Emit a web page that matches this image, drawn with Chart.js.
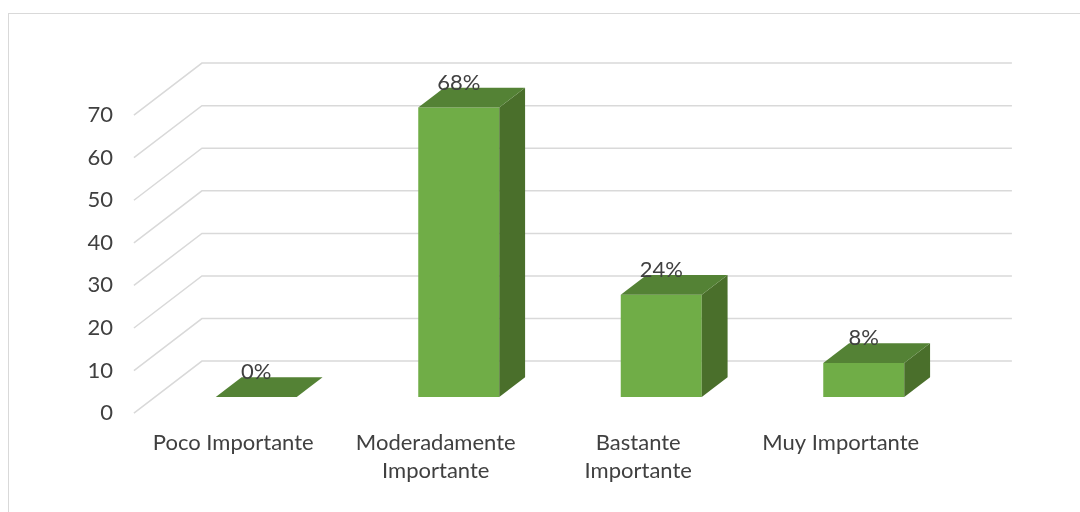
<!DOCTYPE html>
<html>
<head>
<meta charset="utf-8">
<script src="https://cdn.jsdelivr.net/npm/chart.js@4/dist/chart.umd.min.js"></script>
<style>
html,body{margin:0;padding:0;background:#fff;overflow:hidden}
#wrap{position:relative;width:1080px;height:512px}
#frame{position:absolute;left:8px;top:13px;width:1100px;height:540px;border:1.5px solid #d9d9d9}
canvas{position:absolute;left:0;top:0}
</style>
</head>
<body>
<div id="wrap"><div id="frame"></div><canvas id="c" width="1080" height="512"></canvas></div>
<script>
const categorias=['Poco Importante',['Moderadamente','Importante'],['Bastante','Importante'],'Muy Importante'];
const valores=[0,68,24,8];
const etiquetas=['0%','68%','24%','8%'];
const yTicks=[0,10,20,30,40,50,60,70];

// profundidad del piso 3D y posición de la barra dentro de ella
const DX=68,DY=52,F0=0.31,F1=0.69;
const FRENTE='#70ad47',TAPA='#548235',LADO='#4a6f2b',GRID='#d9d9d9';
const FUENTE='Lato, "Open Sans", sans-serif';

const caja3d={
  id:'caja3d',
  beforeDatasetsDraw(chart){
    const {ctx,chartArea:a,scales:{y}}=chart;
    ctx.save();ctx.strokeStyle=GRID;ctx.lineWidth=1.5;
    yTicks.forEach(v=>{
      const yf=y.getPixelForValue(v)+F0*DY,xf=a.left-F0*DX;
      ctx.beginPath();ctx.moveTo(xf,yf);ctx.lineTo(xf+DX,yf-DY);ctx.lineTo(a.right+(1-F0)*DX,yf-DY);ctx.stroke();
    });
    ctx.restore();
  },
  afterDatasetsDraw(chart){
    const {ctx}=chart;const meta=chart.getDatasetMeta(0);
    const dx=(F1-F0)*DX,dy=(F1-F0)*DY;
    ctx.save();
    meta.data.forEach((b,i)=>{
      const l=b.x-b.width/2,r=b.x+b.width/2,t=b.y,bot=b.base;
      // lado
      ctx.fillStyle=LADO;ctx.beginPath();
      ctx.moveTo(r,bot);ctx.lineTo(r+dx,bot-dy);ctx.lineTo(r+dx,t-dy);ctx.lineTo(r,t);ctx.closePath();ctx.fill();
      // tapa
      ctx.fillStyle=TAPA;ctx.beginPath();
      ctx.moveTo(l,t);ctx.lineTo(l+dx,t-dy);ctx.lineTo(r+dx,t-dy);ctx.lineTo(r,t);ctx.closePath();ctx.fill();
      // etiqueta
      ctx.fillStyle='#404040';ctx.font='22px '+FUENTE;
      ctx.textAlign='center';ctx.textBaseline='middle';
      ctx.fillText(etiquetas[i],b.x,t-dy-5);
    });
    ctx.restore();
  }
};

new Chart(document.getElementById('c'),{
  type:'bar',
  data:{labels:categorias,datasets:[{data:valores,backgroundColor:FRENTE,borderWidth:0,categoryPercentage:0.8,barPercentage:0.5}]},
  options:{
    responsive:false,animation:false,
    layout:{padding:{left:0,right:115,top:99,bottom:0}},
    plugins:{legend:{display:false},tooltip:{enabled:false}},
    scales:{
      x:{grid:{display:false,drawTicks:false},border:{display:false},
         ticks:{color:'#404040',font:{family:FUENTE,size:22,lineHeight:1.27},padding:32,labelOffset:-23,maxRotation:0,autoSkip:false},
         afterFit:s=>{s.height=115;}},
      y:{min:0,max:70,grid:{display:false,drawTicks:false},border:{display:false},
         ticks:{stepSize:10,color:'#404040',font:{family:FUENTE,size:22},padding:42,labelOffset:16},
         afterFit:s=>{s.width=155;}}
    }
  },
  plugins:[caja3d]
});
</script>
</body>
</html>
